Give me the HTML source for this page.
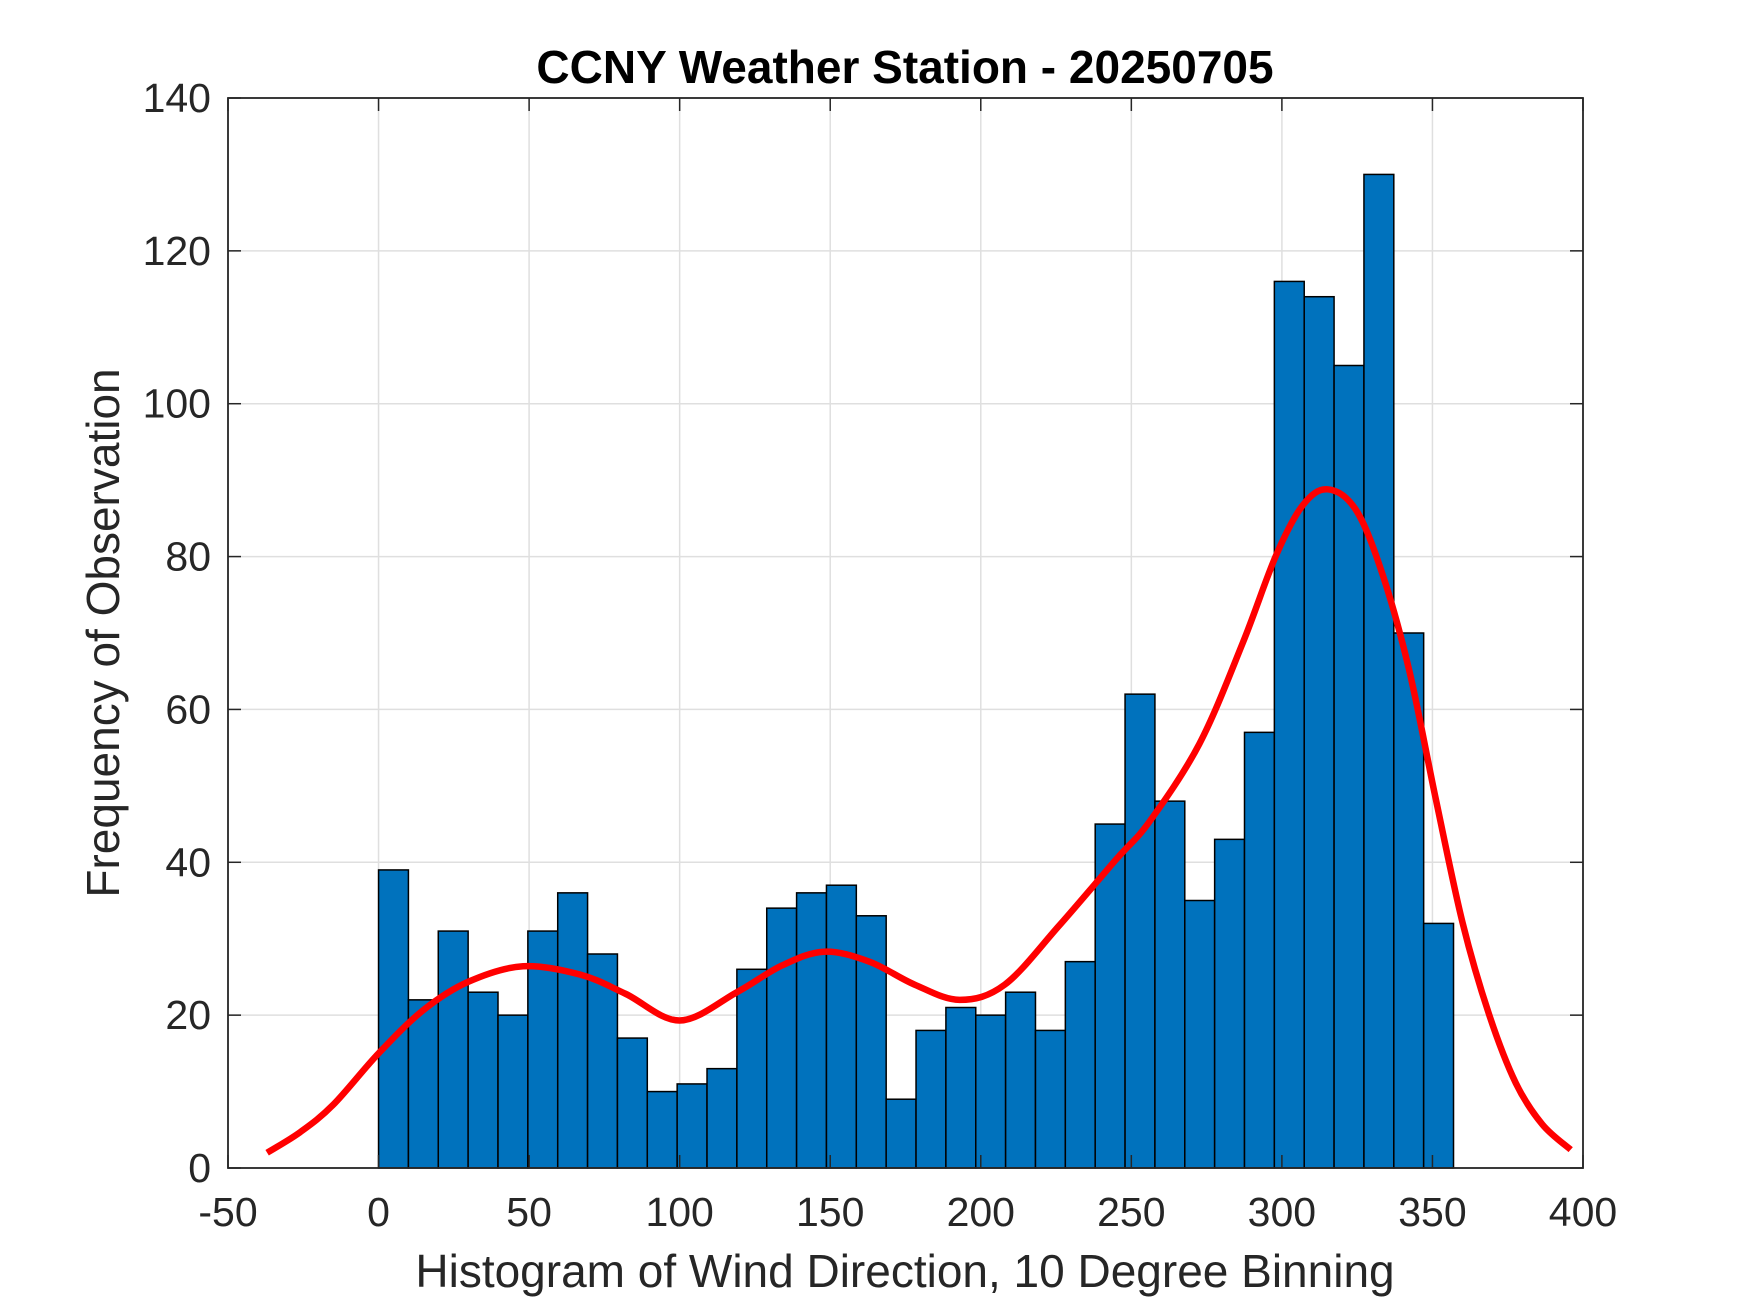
<!DOCTYPE html>
<html><head><meta charset="utf-8"><style>
body{margin:0;background:#fff}
svg{display:block;font-family:"Liberation Sans",Arial,sans-serif}
</style></head><body>
<svg id="chart" width="1750" height="1313" xmlns="http://www.w3.org/2000/svg">
<rect width="1750" height="1313" fill="#fff"/>
<text x="905" y="83" text-anchor="middle" font-size="46" font-weight="bold" fill="#000">CCNY Weather Station - 20250705</text>
<g id="grid"></g><g id="bars"></g><g id="curve"></g><g id="axes"></g>
<text x="905" y="1287" text-anchor="middle" font-size="46" fill="#262626">Histogram of Wind Direction, 10 Degree Binning</text>
<text transform="translate(119,633) rotate(-90)" text-anchor="middle" font-size="46" fill="#262626">Frequency of Observation</text>
</svg>
<script>
const counts=[39,22,31,23,20,31,36,28,17,10,11,13,26,34,36,37,33,9,18,21,20,23,18,27,45,62,48,35,43,57,116,114,105,130,70,32];
const binStart=0, binEnd=357;
const curveX=[-37,-26,-15,0,15,30,48,67,82,100,119,134,148,163,178,193,208,226,245,256,272.6,287,298,306.9,315.2,324.6,333.4,342.3,351.1,360,368.8,377.7,386.5,395.9];
const curveY=[2,4.7,8.3,15,20.7,24.4,26.4,25.3,22.8,19.3,23,26.5,28.3,27,24,22,24,31.7,40.4,45.3,55.5,68.7,80.1,86.7,88.8,86.1,77.7,65.1,48.3,32.1,20.1,11.1,5.7,2.4];
const xTicks=[-50,0,50,100,150,200,250,300,350,400];
const yTicks=[0,20,40,60,80,100,120,140];
const L=228,R=1583,T=98,B=1168;
const xs=v=>L+(v+50)/450*(R-L);
const ys=v=>B-v/140*(B-T);
const NS="http://www.w3.org/2000/svg";
function mk(tag,attrs,parent){const e=document.createElementNS(NS,tag);for(const k in attrs)e.setAttribute(k,attrs[k]);parent.appendChild(e);return e;}
const grid=document.getElementById('grid'),axes=document.getElementById('axes');
xTicks.forEach(t=>{
 const g=mk('line',{x1:xs(t),x2:xs(t),y1:T,y2:B,stroke:'#dfdfdf','stroke-width':1.5},grid);
 
 
 mk('line',{x1:xs(t),x2:xs(t),y1:B,y2:B-13,stroke:'#262626','stroke-width':1.5},axes);
 mk('line',{x1:xs(t),x2:xs(t),y1:T,y2:T+13,stroke:'#262626','stroke-width':1.5},axes);
 const tx=mk('text',{x:xs(t),y:B+58,'text-anchor':'middle','font-size':41,fill:'#262626'},axes);
 tx.textContent=t;
 
 
});
yTicks.forEach(t=>{
 const g=mk('line',{x1:L,x2:R,y1:ys(t),y2:ys(t),stroke:'#dfdfdf','stroke-width':1.5},grid);
 
 
 mk('line',{x1:L,x2:L+13,y1:ys(t),y2:ys(t),stroke:'#262626','stroke-width':1.5},axes);
 mk('line',{x1:R,x2:R-13,y1:ys(t),y2:ys(t),stroke:'#262626','stroke-width':1.5},axes);
 const tx=mk('text',{x:L-17,y:ys(t)+14,'text-anchor':'end','font-size':41,fill:'#262626'},axes);
 tx.textContent=t;
 
 
});
const box=mk('rect',{x:L,y:T,width:R-L,height:B-T,fill:'none',stroke:'#262626','stroke-width':1.8},axes);


const bars=document.getElementById('bars');
const w=(binEnd-binStart)/counts.length;
counts.forEach((c,i)=>{
 const x0=xs(binStart+i*w),x1=xs(binStart+(i+1)*w);
 const r=mk('rect',{x:x0,y:ys(c),width:x1-x0,height:ys(0)-ys(c),fill:'#0072bd',stroke:'#000','stroke-width':1.5},bars);
 
 
});
const pts=curveX.map((x,i)=>[xs(x),ys(curveY[i])]);
let d='M'+pts[0][0]+','+pts[0][1];
for(let i=0;i<pts.length-1;i++){
 const p0=pts[Math.max(0,i-1)],p1=pts[i],p2=pts[i+1],p3=pts[Math.min(pts.length-1,i+2)];
 const c1=[p1[0]+(p2[0]-p0[0])/6,p1[1]+(p2[1]-p0[1])/6],c2=[p2[0]-(p3[0]-p1[0])/6,p2[1]-(p3[1]-p1[1])/6];
 d+=' C'+c1+' '+c2+' '+p2;
}
const path=mk('path',{d:d,fill:'none',stroke:'#ff0000','stroke-width':6.5,'stroke-linecap':'butt','stroke-linejoin':'round'},document.getElementById('curve'));


</script>
</body></html>
